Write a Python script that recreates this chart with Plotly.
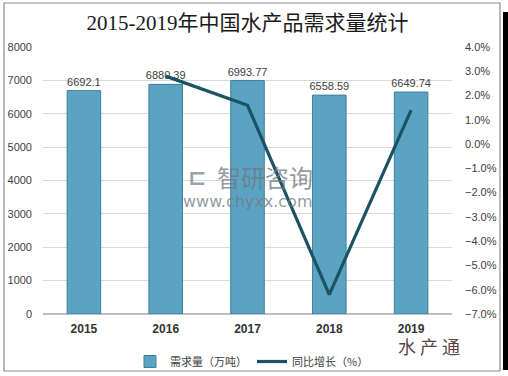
import plotly.graph_objects as go

years = ["2015", "2016", "2017", "2018", "2019"]
demand = [6692.1, 6880.39, 6993.77, 6558.59, 6649.74]
demand_labels = ["6692.1", "6880.39", "6993.77", "6558.59", "6649.74"]
growth_years = ["2016", "2017", "2018", "2019"]
growth = [2.8, 1.6, -6.2, 1.4]

W, H = 508, 376
L, R, T, B = 43, 56, 47, 62
pw, ph = W - L - R, H - T - B

def px(x):
    return (x - L) / pw

def py(y):
    return (H - B - y) / ph

fig = go.Figure()
fig.add_trace(go.Bar(
    x=years, y=demand, name="需求量（万吨）",
    marker=dict(color="#5BA3C3", line=dict(color="#3E7E98", width=1)),
    width=0.41,
    text=demand_labels, textposition="outside", cliponaxis=False, constraintext="none",
    textfont=dict(family="Liberation Sans, Arial", size=11, color="#404040"),
    yaxis="y",
))
fig.add_trace(go.Scatter(
    x=growth_years, y=growth, name="同比增长（%）", mode="lines",
    line=dict(color="#1B5363", width=3.2),
    yaxis="y2",
))

fig.update_layout(
    width=W, height=H,
    margin=dict(l=L, r=R, t=T, b=B, autoexpand=False),
    paper_bgcolor="white", plot_bgcolor="white",
    showlegend=True,
    legend=dict(orientation="h", x=130 / W, y=1 - 347 / H, xref="container", yref="container",
                xanchor="left", yanchor="top",
                font=dict(family="Noto Sans CJK SC", size=11, color="#404040"),
                itemwidth=30, bgcolor="rgba(0,0,0,0)"),
    xaxis=dict(type="category", showgrid=False, showline=False, ticks="", ticklabelstandoff=6,
               tickfont=dict(family="Liberation Sans, Arial", size=12, color="#333333", weight="bold")),
    yaxis=dict(range=[0, 8000], dtick=1000, showgrid=True, gridcolor="#D9D9D9", gridwidth=1,
               zeroline=True, zerolinecolor="#BFBFBF", showline=False, ticks="",
               tickfont=dict(family="Liberation Sans, Arial", size=11, color="#404040"), ticklabelstandoff=10),
    yaxis2=dict(range=[-7, 4], dtick=1, overlaying="y", side="right", showgrid=False,
                zeroline=False, tickformat=".1f", ticksuffix="%", ticks="",
                tickfont=dict(family="Liberation Sans, Arial", size=11, color="#404040"), ticklabelstandoff=12),
    bargap=0.5,
    title=dict(text="2015-2019年中国水产品需求量统计", x=0.5, xref="paper", y=1 - 23 / H, yanchor="middle",
               font=dict(family="Liberation Serif, Noto Sans CJK SC", size=21, color="#1a1a1a")),
)

# outer frame
fig.add_shape(type="rect", xref="paper", yref="paper", x0=px(4), x1=px(500), y0=py(371), y1=py(3),
              line=dict(color="#8C8C8C", width=1.2), fillcolor="rgba(0,0,0,0)", layer="below")
# black strip at right edge
fig.add_shape(type="rect", xref="paper", yref="paper", x0=px(503), x1=px(509), y0=py(370), y1=py(12),
              line=dict(width=0), fillcolor="black")

# watermarks
fig.add_annotation(text="<b>⊏</b>", xref="paper", yref="paper", x=px(197), y=py(177), showarrow=False,
                   font=dict(family="DejaVu Sans", size=22, color="rgba(110,120,130,0.7)"))
fig.add_annotation(text="智研咨询", xref="paper", yref="paper", x=px(265), y=py(176), showarrow=False,
                   font=dict(family="Noto Sans CJK SC", size=24, color="rgba(110,120,130,0.75)"))
fig.add_annotation(text="www.chyxx.com", xref="paper", yref="paper", x=px(247), y=py(201), showarrow=False,
                   font=dict(family="DejaVu Sans", size=16, color="rgba(110,120,130,0.75)"))
fig.add_annotation(text="水 产 通", xref="paper", yref="paper", x=px(461), y=py(360), showarrow=False,
                   font=dict(family="Noto Sans CJK SC", size=18, color="#5a4646"), borderpad=0)

fig.write_html("out.html", config={"displayModeBar": False},
               post_script="document.body.style.margin='0';")
